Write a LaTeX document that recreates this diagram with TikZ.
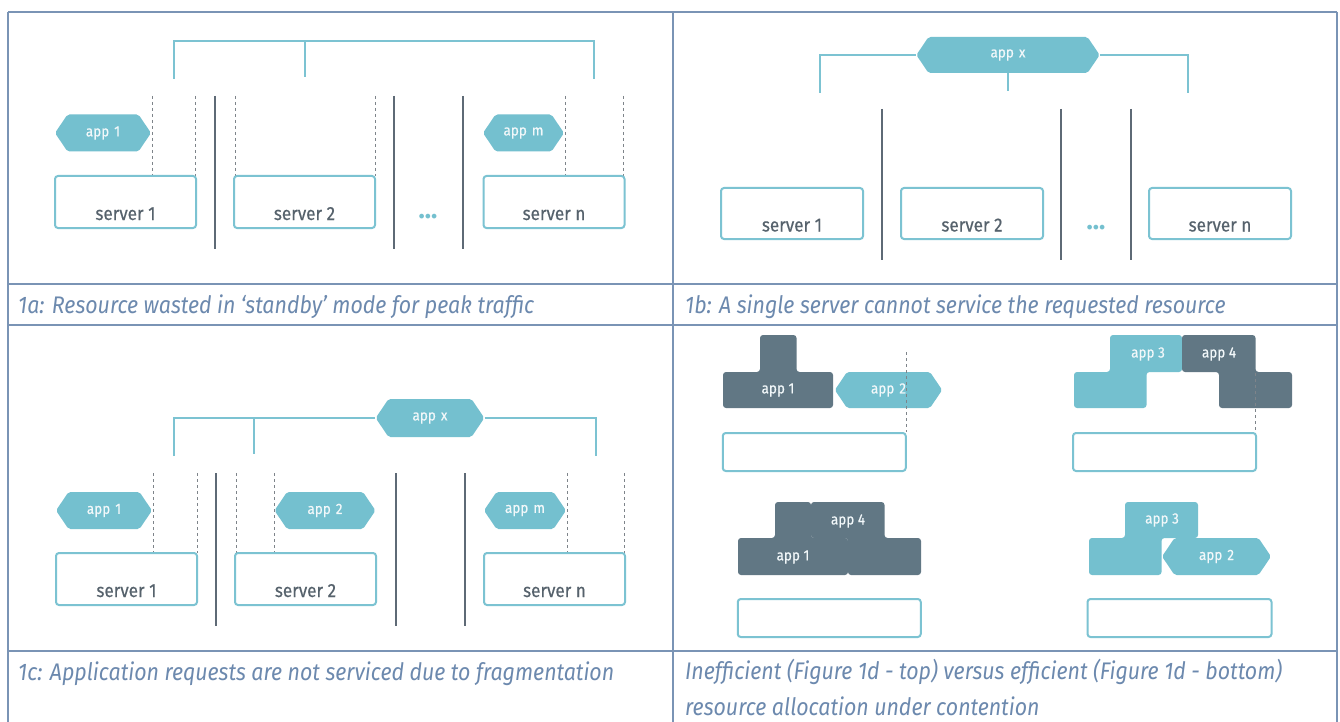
\documentclass[tikz,border=0pt]{standalone}
\usepackage{fontspec}
\setmainfont{Fira Sans}
\newfontfamily\capfont[FakeStretch=0.89]{Fira Sans}
\newfontfamily\diafont[FakeStretch=0.9,FakeBold=0.4]{Fira Sans}
\usetikzlibrary{shapes.symbols}
\definecolor{appteal}{HTML}{74C0CF}
\definecolor{appdark}{HTML}{617784}
\definecolor{servtxt}{HTML}{56626C}
\definecolor{sepline}{HTML}{5E6A76}
\definecolor{dashgray}{HTML}{7E848A}
\definecolor{tblline}{HTML}{7A94B5}
\definecolor{captxt}{HTML}{6C89AE}
\definecolor{boxline}{HTML}{7CC3D2}
\definecolor{lbltxt}{HTML}{F2F8FA}
\tikzset{
  tbl/.style={draw=tblline, line width=2pt},
  bracket/.style={draw=boxline, line width=2pt},
  sepl/.style={draw=sepline, line width=2pt},
  dashl/.style={draw=dashgray, line width=1pt, dash pattern=on 3pt off 3pt},
  server/.style={draw=boxline, line width=2pt, rounded corners=3pt, fill=white,
    inner sep=0pt, text=servtxt, font=\diafont\fontsize{19}{22}\selectfont,
    text height=36pt, text depth=0pt},
  hexnode/.style={signal, signal to=east and west, signal pointer angle=112,
    fill=appteal, draw=none, inner xsep=0pt, inner ysep=0pt, minimum height=37pt,
    align=center, text=lbltxt, font=\diafont\fontsize{15}{17}\selectfont, rounded corners=2pt},
  blocklabel/.style={text=lbltxt, font=\diafont\fontsize{15}{17}\selectfont, inner sep=0pt},
  darkblk/.style={fill=appdark, rounded corners=3pt},
  tealblk/.style={fill=appteal, rounded corners=3pt},
  caption/.style={anchor=base west, text=captxt, align=left, inner sep=0pt,
    font=\capfont\itshape\fontsize{24}{36}\selectfont},
  dots/.style={text=appteal, font=\bfseries\fontsize{26}{28}\selectfont, inner sep=0pt}
}
\begin{document}
\begin{tikzpicture}[x=1pt,y=-1pt]
\useasboundingbox (0,0) rectangle (1340,722);
\fill[white] (0,0) rectangle (1340,722);
% ---------- table ----------
\draw[tbl] (8,12) -- (1337,12) (8,284) -- (1337,284) (8,325) -- (1337,325) (8,651) -- (1337,651);
\draw[tbl] (8,12) -- (8,722) (673,12) -- (673,722) (1337,12) -- (1337,722);
% ---------- 1a ----------
\draw[bracket] (174,79) -- (174,41) -- (594,41) -- (594,79);
\draw[bracket] (305,41) -- (305,77);
\foreach \x in {152,195,235,375,565,623} \draw[dashl] (\x,96) -- (\x,176);
\foreach \x in {215,394,463} \draw[sepl] (\x,96) -- (\x,249);
\node[server, minimum width=141pt, minimum height=52pt] (a-s1) at (125.5,202) {server 1};
\node[server, minimum width=141pt, minimum height=52pt] (a-s2) at (304.5,202) {server 2};
\node[server, minimum width=141pt, minimum height=52pt] (a-sn) at (554,202) {server n};
\node[dots] (a-dots) at (428,217) {...};
\node[hexnode, text width=71pt] (a-app1) at (103,133) {app 1};
\node[hexnode, text width=56pt] (a-appm) at (523.5,133) {app m};
% ---------- 1b ----------
\node[hexnode, text width=159pt, minimum height=36pt] (b-appx) at (1008,55) {app x};
\coordinate (b-l) at (820,93);
\coordinate (b-r) at (1188,93);
\draw[bracket] (b-l) -- (b-l |- b-appx.west) -- (b-appx.west);
\draw[bracket] (b-appx.east) -- (b-r |- b-appx.east) -- (b-r);
\draw[bracket] (b-appx.south) -- ++(0,18);
\foreach \x in {882,1061,1131} \draw[sepl] (\x,109) -- (\x,260);
\node[server, minimum width=142pt, minimum height=51pt] (b-s1) at (792,213.5) {server 1};
\node[server, minimum width=142pt, minimum height=51pt] (b-s2) at (972,213.5) {server 2};
\node[server, minimum width=142pt, minimum height=51pt] (b-sn) at (1220,213.5) {server n};
\node[dots] (b-dots) at (1096,228) {...};
% ---------- 1c ----------
\node[hexnode, text width=83pt, minimum height=38pt] (c-appx) at (430,418) {app x};
\coordinate (c-l) at (174,456);
\coordinate (c-m) at (254,454);
\coordinate (c-r) at (596,456);
\draw[bracket] (c-l) -- (c-l |- c-appx.west) -- (c-appx.west);
\draw[bracket] (c-m |- c-appx.west) -- (c-m);
\draw[bracket] (c-appx.east) -- (c-r |- c-appx.east) -- (c-r);
\foreach \x in {153,197,236,274,567,624} \draw[dashl] (\x,473) -- (\x,553);
\foreach \x in {216,395.5,465} \draw[sepl] (\x,473) -- (\x,626);
\node[server, minimum width=141pt, minimum height=52pt] (c-s1) at (126.5,579) {server 1};
\node[server, minimum width=141pt, minimum height=52pt] (c-s2) at (305.5,579) {server 2};
\node[server, minimum width=141pt, minimum height=52pt] (c-sn) at (554.5,579) {server n};
\node[hexnode, text width=71pt] (c-app1) at (104,510.5) {app 1};
\node[hexnode, text width=76pt] (c-app2) at (325,510.5) {app 2};
\node[hexnode, text width=57pt] (c-appm) at (525,510.5) {app m};
% ---------- 1d top-left ----------
\node[server, minimum width=183pt, minimum height=38pt] (d1-box) at (814.25,452) {};
\fill[darkblk] (723,372) -- (760,372) -- (760,335) -- (796.5,335) -- (796.5,372) -- (833,372) -- (833,408) -- (723,408) -- cycle;
\node[blocklabel] (d1-app1) at (778,390) {app 1};
\node[hexnode, text width=83pt, minimum height=36pt] (d1-app2) at (888.5,390) {app 2};
\draw[dashl] (906,352) -- (d1-box.north -| 906,0);
% ---------- 1d top-right ----------
\node[server, minimum width=183pt, minimum height=38pt] (d2-box) at (1164.5,452) {};
\fill[tealblk] (1110,335) -- (1182,335) -- (1182,372) -- (1146.5,372) -- (1146.5,408) -- (1074,408) -- (1074,372) -- (1110,372) -- cycle;
\fill[darkblk] (1182,335) -- (1255.5,335) -- (1255.5,372) -- (1292,372) -- (1292,408) -- (1219,408) -- (1219,372) -- (1182,372) -- cycle;
\node[blocklabel] (d2-app3) at (1148,354) {app 3};
\node[blocklabel] (d2-app4) at (1219,354) {app 4};
\draw[dashl] (1255.5,373) -- (d2-box.north -| 1255.5,0);
% ---------- 1d bottom-left ----------
\node[server, minimum width=183pt, minimum height=38pt] (d3-box) at (829.25,618) {};
\fill[darkblk] (738,538) -- (775,538) -- (775,502) -- (811,502) -- (811,538) -- (848,538) -- (848,575) -- (738,575) -- cycle;
\fill[darkblk] (811,502) -- (884.5,502) -- (884.5,538) -- (921,538) -- (921,575) -- (848,575) -- (848,538) -- (811,538) -- cycle;
\node[blocklabel] (d3-app4) at (848,521) {app 4};
\node[blocklabel] (d3-app1) at (793,557) {app 1};
% ---------- 1d bottom-right ----------
\node[server, minimum width=184pt, minimum height=38pt] (d4-box) at (1179.5,618) {};
\fill[tealblk] (1125,502) -- (1198,502) -- (1198,538) -- (1161.5,538) -- (1161.5,575) -- (1089,575) -- (1089,538) -- (1125,538) -- cycle;
\node[blocklabel] (d4-app3) at (1162,520) {app 3};
\node[hexnode, text width=84pt] (d4-app2) at (1216.5,556.5) {app 2};
% ---------- captions ----------
\node[caption] (cap-a) at (18,313) {1a: Resource wasted in ‘standby’ mode for peak traffic};
\node[caption] (cap-b) at (685,313) {1b: A single server cannot service the requested resource};
\node[caption] (cap-c) at (18,680) {1c: Application requests are not serviced due to fragmentation};
\node[caption] (cap-d) at (685,715) {Inefficient (Figure 1d - top) versus efficient (Figure 1d - bottom)\\resource allocation under contention};
\end{tikzpicture}
\end{document}
